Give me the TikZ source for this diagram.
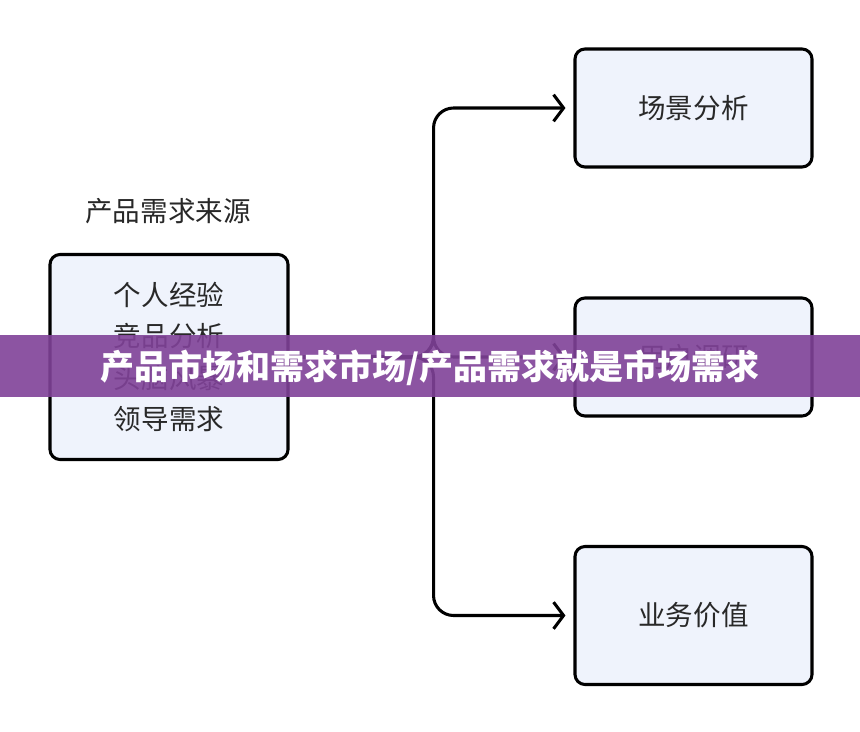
\documentclass[tikz,border=0pt]{standalone}
\usepackage{fontspec}
\setmainfont{Noto Sans CJK SC}
\usepackage{tikz}
\usetikzlibrary{positioning, arrows.meta, calc}

\definecolor{boxfill}{RGB}{239,243,252}
\definecolor{inkgray}{RGB}{40,40,40}
\definecolor{banner}{RGB}{128,66,152}

\begin{document}
\begin{tikzpicture}[
            x=0.03cm, y=-0.03cm,
            box/.style={draw=black, line width=2.6pt, rounded corners=0.3cm, fill=boxfill,
                text=inkgray, font=\fontsize{23.5}{35.2}\selectfont, align=center,
                minimum width=7.11cm, inner sep=0pt},
            conn/.style={draw=black, line width=2.6pt, rounded corners=0.6cm,
                -{Straight Barb[length=0.3cm, width=0.8cm]}, shorten >=0.24cm},
        ]

        % page
        \useasboundingbox[fill=white] (0,0) rectangle (860,732);

        % Draw the source box and its title
        \node[box, minimum height=6.15cm, minimum width=7.14cm] (src) at (169,357)
            {个人经验\\竞品分析\\头脑风暴\\领导需求};
        \node[text=inkgray, font=\fontsize{23.5}{28}\selectfont] (src-title) at (168,211) {产品需求来源};

        % Draw the target boxes
        \foreach \name / \y / \h / \txt in {1/108/3.54/场景分析, 2/357/3.54/用户调研, 3/615.5/4.14/业务价值}
        \node[box, minimum height=\h cm] (T-\name) at (693.5,\y) {\txt};

        % Connect the source with every target
        \foreach \dest in {1,2,3}
        \draw[conn] (src.east) -- ++(144,0) |- (T-\dest.west |- T-\dest.center);

        % Banner across the picture
        \fill[banner, fill opacity=0.9] (0,335) rectangle (860,397);
        \node[text=white, font=\fontsize{29}{34}\selectfont\bfseries] (banner-text) at (430,368)
            {产品市场和需求市场/产品需求就是市场需求};
    \end{tikzpicture}
\end{document}
